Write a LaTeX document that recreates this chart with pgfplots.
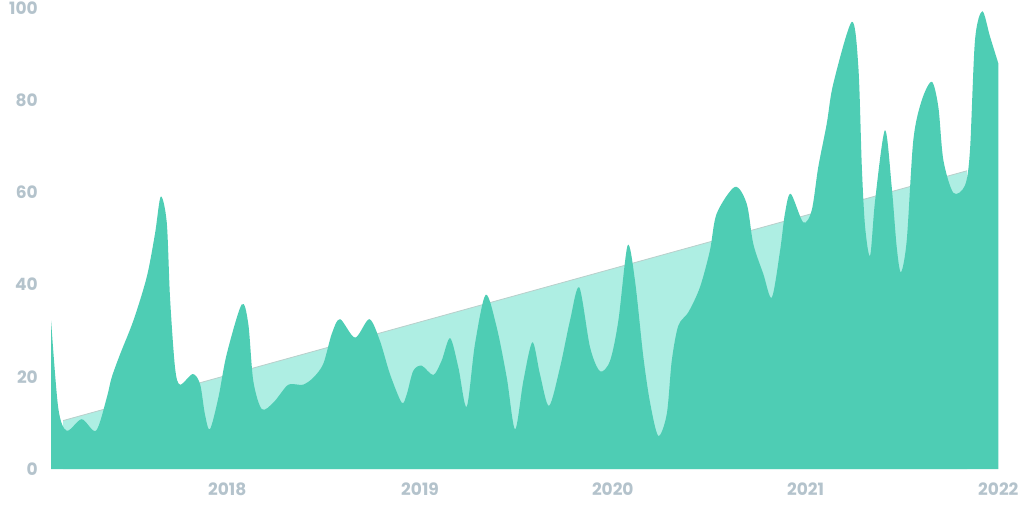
\documentclass[border=0pt]{standalone}
\usepackage{pgfplots}
\pgfplotsset{compat=1.18}
\usepackage{fontspec}
\setmainfont{Poppins}

\definecolor{area}{HTML}{4ECDB4}
\definecolor{trend}{HTML}{AEEEE3}
\definecolor{trendline}{HTML}{B9CFCB}
\definecolor{lbl}{HTML}{B4C3CC}

\begin{document}
\begin{tikzpicture}
  % frame of the picture: 1024 x 512 px, 1 px = 1 pt, axis origin at (0,0)
  \useasboundingbox (-50.7pt,-43pt) rectangle (973.3pt,469pt);
  \begin{axis}[
    scale only axis,
    width=947.6pt,
    height=461pt,
    xmin=2017.084, xmax=2022.0,
    ymin=0, ymax=100,
    axis line style={draw=none},
    major tick length=0pt,
    xtick={2018,2019,2020,2021,2022},
    xticklabels={2018,2019,2020,2021,2022},
    ytick={0,20,40,60,80,100},
    yticklabels={0,20,40,60,80,100},
    /pgf/number format/assume math mode=true,
    tick label style={font=\fontsize{17}{20}\selectfont\bfseries, text=lbl, inner sep=0pt},
    xticklabel style={anchor=north, yshift=-14pt},
    yticklabel style={anchor=east, xshift=-12.7pt},
    clip=false,
  ]

  % linear trend, drawn behind the data
  \addplot[fill=trend, draw=none] coordinates {
    (2017.148,0) (2017.148,10.5) (2021.838,64.7) (2021.838,0)
  } \closedcycle;
  \addplot[draw=trendline, line width=0.8pt] coordinates {
    (2017.148,10.5) (2021.838,64.7)
  };

  % data
  \addplot[fill=area, draw=none, smooth, tension=0.5] table {
    x y
    2017.086 32.2
    2017.123 13.3
    2017.167 8.3
    2017.245 10.8
    2017.319 8.3
    2017.375 15.5
    2017.400 19.8
    2017.444 24.9
    2017.513 32.2
    2017.582 41.6
    2017.625 51.0
    2017.655 59.1
    2017.686 53.5
    2017.703 37.2
    2017.729 22.0
    2017.755 18.3
    2017.821 20.6
    2017.859 18.4
    2017.884 11.9
    2017.910 8.6
    2017.954 15.5
    2017.997 24.9
    2018.075 35.7
    2018.109 31.5
    2018.135 19.1
    2018.179 13.0
    2018.239 14.4
    2018.308 18.0
    2018.343 18.4
    2018.394 18.3
    2018.446 19.8
    2018.498 22.8
    2018.542 29.3
    2018.585 32.5
    2018.663 28.5
    2018.737 32.5
    2018.792 27.8
    2018.844 20.6
    2018.905 14.4
    2018.931 16.2
    2018.965 21.3
    2019.009 22.4
    2019.069 20.4
    2019.112 23.5
    2019.156 28.4
    2019.199 22.0
    2019.242 13.5
    2019.285 27.1
    2019.341 37.8
    2019.398 30.7
    2019.450 19.8
    2019.493 8.6
    2019.536 19.1
    2019.583 27.5
    2019.622 20.6
    2019.669 13.7
    2019.726 22.0
    2019.778 32.2
    2019.826 39.4
    2019.882 26.4
    2019.934 21.2
    2019.986 23.5
    2020.029 32.2
    2020.077 48.5
    2020.115 40.9
    2020.158 24.5
    2020.193 14.5
    2020.236 7.2
    2020.280 11.9
    2020.306 23.5
    2020.340 31.1
    2020.392 34.0
    2020.452 39.4
    2020.504 47.4
    2020.539 55.4
    2020.634 61.2
    2020.695 57.5
    2020.729 48.8
    2020.781 42.3
    2020.825 37.2
    2020.868 47.4
    2020.893 55.4
    2020.923 59.7
    2020.988 53.5
    2021.032 56.1
    2021.066 65.5
    2021.110 74.9
    2021.144 83.6
    2021.240 97.0
    2021.274 87.2
    2021.292 65.5
    2021.309 52.5
    2021.335 46.3
    2021.361 58.3
    2021.412 73.5
    2021.447 61.2
    2021.473 48.1
    2021.495 42.7
    2021.525 49.6
    2021.559 71.3
    2021.603 80.0
    2021.655 84.0
    2021.689 78.5
    2021.715 67.0
    2021.767 59.9
    2021.827 61.5
    2021.853 69.1
    2021.879 93.0
    2021.917 99.3
    2021.957 93.8
    2022.000 88.0
  } \closedcycle;

  \end{axis}
\end{tikzpicture}
\end{document}
